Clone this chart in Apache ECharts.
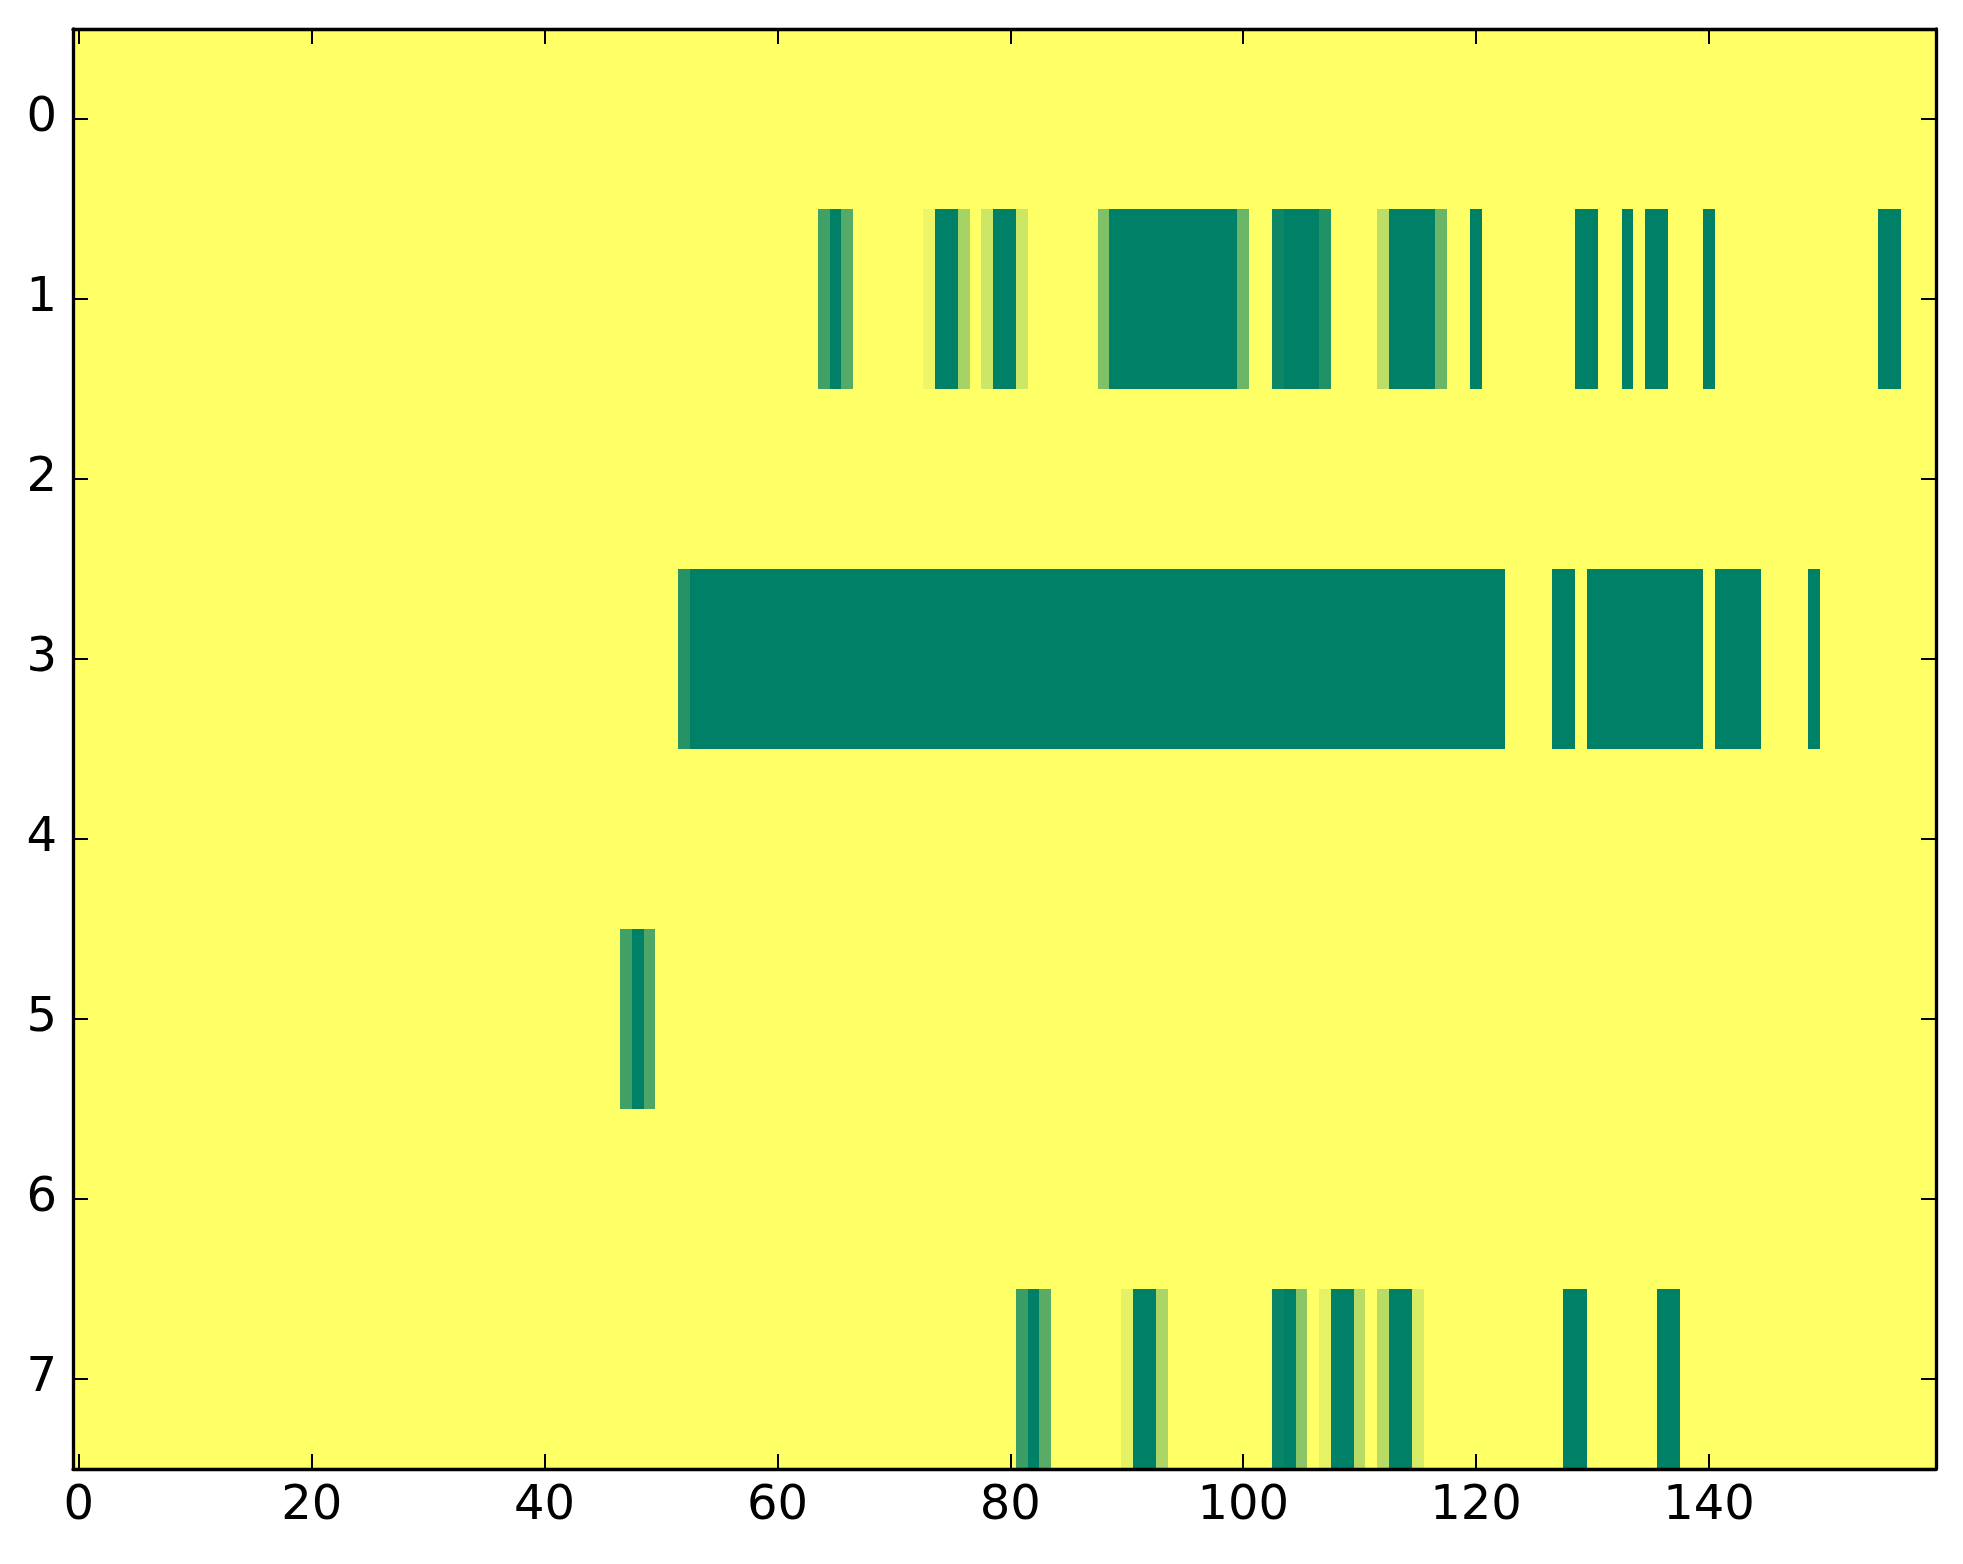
<!DOCTYPE html>
<html>
<head>
<meta charset="utf-8">
<script src="https://cdn.jsdelivr.net/npm/echarts@6/dist/echarts.min.js"></script>
<style>
html,body{margin:0;padding:0;background:#fff;}
#chart{width:1963px;height:1564px;}
</style>
</head>
<body>
<div id="chart"></div>
<script>
// grid size
const nCols = 160;
const nRows = 8;
// tick labels
const xTicks = [0, 20, 40, 60, 80, 100, 120, 140];
const yTicks = [0, 1, 2, 3, 4, 5, 6, 7];
// non-zero runs per row: [firstCol, lastCol, value]; everything else is 0
const row0Runs = [];
const row1Runs = [[64,64,0.75],[65,65,1],[66,66,0.67],[73,73,0.07],[74,75,1],[76,76,0.35],[78,78,0.2],[79,80,1],[81,81,0.2],[88,88,0.5],[89,99,1],[100,100,0.58],[103,103,0.95],[104,106,1],[107,107,0.87],[112,112,0.26],[113,116,1],[117,117,0.58],[120,120,1],[129,130,1],[133,133,1],[135,136,1],[140,140,1],[155,156,1]];
const row2Runs = [];
const row3Runs = [[52,52,0.85],[53,122,1],[127,128,1],[130,139,1],[141,144,1],[149,149,1]];
const row4Runs = [];
const row5Runs = [[47,47,0.75],[48,48,1],[49,49,0.7]];
const row6Runs = [];
const row7Runs = [[81,81,0.77],[82,82,1],[83,83,0.65],[90,90,0.1],[91,92,1],[93,93,0.33],[103,103,0.97],[104,104,1],[105,105,0.46],[107,107,0.1],[108,109,1],[110,110,0.28],[112,112,0.28],[113,114,1],[115,115,0.15],[128,129,1],[136,137,1]];

const allRuns = [row0Runs,row1Runs,row2Runs,row3Runs,row4Runs,row5Runs,row6Runs,row7Runs];
const cells = [];
for (let r = 0; r < nRows; r++) {
  const vals = new Array(nCols).fill(0);
  allRuns[r].forEach(function (run) {
    for (let c = run[0]; c <= run[1]; c++) vals[c] = run[2];
  });
  for (let c = 0; c < nCols; c++) cells.push([c, r, vals[c]]);
}

const chart = echarts.init(document.getElementById('chart'), null, {renderer: 'canvas'});
const font = 'DejaVu Sans';
const axisLine = {show: true, onZero: false, lineStyle: {color: '#000', width: 3.3}};
const tickStyle = {color: '#000', width: 2};

chart.setOption({
  animation: false,
  backgroundColor: '#fff',
  grid: {left: 73, right: 27, top: 29, bottom: 95, containLabel: false, show: true, backgroundColor: '#ffff66', borderWidth: 0},
  visualMap: {show: false, type: 'continuous', min: 0, max: 1, dimension: 2, seriesIndex: 0, inRange: {color: ['#ffff66', '#008066']}},
  xAxis: [
    {type: 'value', z: 10, min: -0.5, max: nCols - 0.5, position: 'bottom', splitLine: {show: false}, axisLine: axisLine,
     axisTick: {show: true, inside: true, length: 15, lineStyle: tickStyle, customValues: xTicks},
     axisLabel: {show: true, customValues: xTicks, fontSize: 48, fontFamily: font, color: '#000', margin: 14}},
    {type: 'value', z: 10, min: -0.5, max: nCols - 0.5, position: 'top', splitLine: {show: false}, axisLine: axisLine,
     axisTick: {show: true, inside: true, length: 15, lineStyle: tickStyle, customValues: xTicks},
     axisLabel: {show: false}}
  ],
  yAxis: [
    {type: 'value', z: 10, inverse: true, min: -0.5, max: nRows - 0.5, position: 'left', splitLine: {show: false}, axisLine: axisLine,
     axisTick: {show: true, inside: true, length: 15, lineStyle: tickStyle, customValues: yTicks},
     axisLabel: {show: true, customValues: yTicks, fontSize: 48, fontFamily: font, color: '#000', margin: 16}},
    {type: 'value', z: 10, inverse: true, min: -0.5, max: nRows - 0.5, position: 'right', splitLine: {show: false}, axisLine: axisLine,
     axisTick: {show: true, inside: true, length: 15, lineStyle: tickStyle, customValues: yTicks},
     axisLabel: {show: false}}
  ],
  series: [{
    type: 'custom',
    xAxisIndex: 0,
    yAxisIndex: 0,
    data: cells,
    encode: {x: 0, y: 1},
    z: 1,
    renderItem: function (params, api) {
      const c = api.value(0), r = api.value(1);
      const p0 = api.coord([c - 0.5, r - 0.5]);
      const p1 = api.coord([c + 0.5, r + 0.5]);
      const xa = Math.round(Math.min(p0[0], p1[0])), xb = Math.round(Math.max(p0[0], p1[0]));
      const ya = Math.round(Math.min(p0[1], p1[1])), yb = Math.round(Math.max(p0[1], p1[1]));
      return {
        type: 'rect',
        shape: {x: xa, y: ya, width: xb - xa, height: yb - ya},
        style: {fill: api.visual('color'), stroke: null, lineWidth: 0}
      };
    }
  }]
});
</script>
</body>
</html>
